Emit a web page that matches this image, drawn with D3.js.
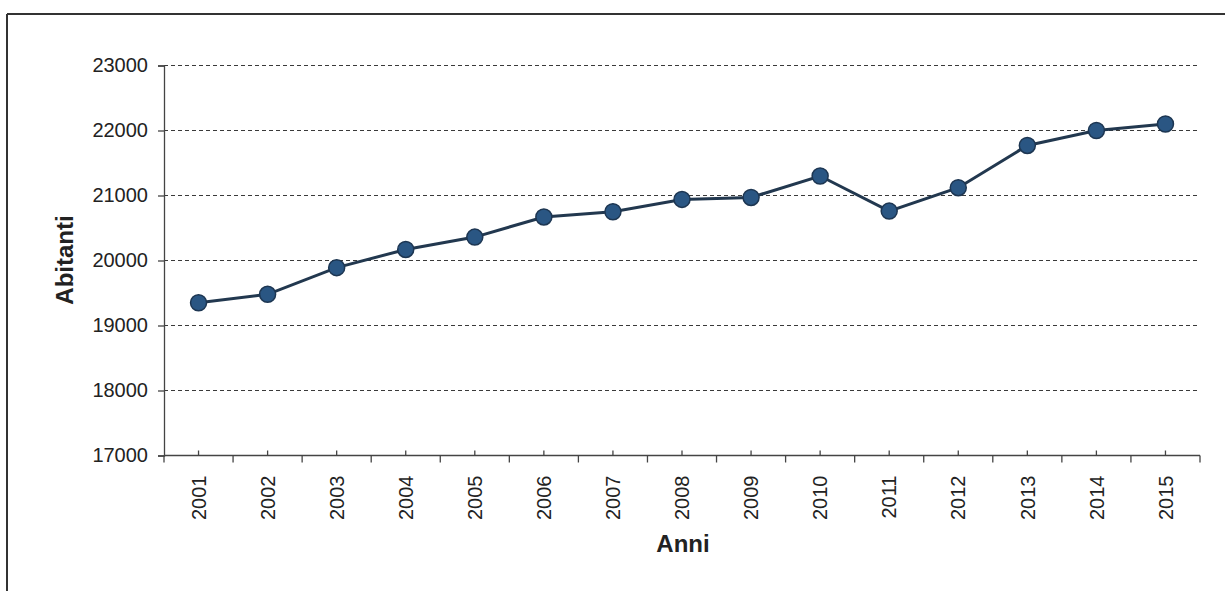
<!DOCTYPE html>
<html>
<head>
<meta charset="utf-8">
<script src="https://cdnjs.cloudflare.com/ajax/libs/d3/7.8.5/d3.min.js"></script>
<style>
  body { margin: 0; background: #fff; }
  svg { display: block; font-family: "Liberation Sans", Arial, sans-serif; }
</style>
</head>
<body>
<svg width="1225" height="591"></svg>
<script>
// data
var years = ["2001","2002","2003","2004","2005","2006","2007","2008","2009","2010","2011","2012","2013","2014","2015"];
var abitanti = [19350, 19480, 19890, 20170, 20360, 20670, 20750, 20940, 20970, 21300, 20760, 21120, 21770, 22000, 22100];
var yTicks = [17000, 18000, 19000, 20000, 21000, 22000, 23000];

var svg = d3.select("svg");

// outer frame (top and left edges of the box)
svg.append("line").attr("x1", 7).attr("y1", 14).attr("x2", 1225).attr("y2", 14)
    .attr("stroke", "#333").attr("stroke-width", 2);
svg.append("line").attr("x1", 7).attr("y1", 14).attr("x2", 7).attr("y2", 591)
    .attr("stroke", "#333").attr("stroke-width", 2);

var plotLeft = 164, plotRight = 1200, plotTop = 65.5, plotBottom = 455.5;

var x = d3.scaleBand().domain(years).range([plotLeft, plotRight]).padding(0);
var y = d3.scaleLinear().domain([17000, 23000]).range([plotBottom, plotTop]);

//dashed grid lines
svg.append("g").selectAll("line")
    .data(yTicks.filter(function(d) { return d > 17000; }))
    .enter().append("line")
    .attr("x1", plotLeft).attr("x2", plotRight)
    .attr("y1", function(d) { return y(d); })
    .attr("y2", function(d) { return y(d); })
    .attr("stroke", "#3a3a3a")
    .attr("stroke-width", 1.2)
    .attr("stroke-dasharray", "4,3");

// y axis
var yAxis = svg.append("g")
    .attr("transform", "translate(" + plotLeft + ",0)")
    .call(d3.axisLeft(y).tickValues(yTicks).tickSize(6).tickPadding(10).tickFormat(d3.format("d")));
yAxis.select(".domain").attr("stroke", "#444").attr("stroke-width", 1.3);
yAxis.selectAll(".tick line").attr("stroke", "#444").attr("stroke-width", 1.3);
yAxis.selectAll("text").attr("font-size", 20).attr("fill", "#222").attr("font-family", "Liberation Sans, Arial, sans-serif");

// x axis line
svg.append("line").attr("x1", plotLeft).attr("x2", plotRight).attr("y1", plotBottom).attr("y2", plotBottom)
    .attr("stroke", "#444").attr("stroke-width", 1.3);

// ticks at category boundaries (below) and centers (above)
var bounds = years.map(function(d) { return x(d); }).concat([plotRight]);
svg.append("g").selectAll("line").data(bounds).enter().append("line")
    .attr("x1", function(d) { return d; }).attr("x2", function(d) { return d; })
    .attr("y1", plotBottom).attr("y2", plotBottom + 7)
    .attr("stroke", "#444").attr("stroke-width", 1.3);
svg.append("g").selectAll("line").data(years).enter().append("line")
    .attr("x1", function(d) { return x(d) + x.bandwidth() / 2; })
    .attr("x2", function(d) { return x(d) + x.bandwidth() / 2; })
    .attr("y1", plotBottom).attr("y2", plotBottom - 5)
    .attr("stroke", "#444").attr("stroke-width", 1.3);

// year labels, rotated
svg.append("g").selectAll("text").data(years).enter().append("text")
    .attr("transform", function(d) {
        return "translate(" + (x(d) + x.bandwidth() / 2) + "," + (plotBottom + 20) + ") rotate(-90)";
    })
    .attr("text-anchor", "end")
    .attr("dy", "0.36em")
    .attr("font-size", 20)
    .attr("fill", "#222")
    .text(function(d) { return d; });

// line
var line = d3.line()
    .x(function(d, i) { return x(years[i]) + x.bandwidth() / 2; })
    .y(function(d) { return y(d); });

svg.append("path")
    .datum(abitanti)
    .attr("d", line)
    .attr("fill", "none")
    .attr("stroke", "#22384f")
    .attr("stroke-width", 3);

svg.append("g").selectAll("circle").data(abitanti).enter().append("circle")
    .attr("cx", function(d, i) { return x(years[i]) + x.bandwidth() / 2; })
    .attr("cy", function(d) { return y(d); })
    .attr("r", 8)
    .attr("fill", "#2a5683")
    .attr("stroke", "#1d3652")
    .attr("stroke-width", 1.5);

// axis titles
svg.append("text")
    .attr("x", 683).attr("y", 552)
    .attr("text-anchor", "middle")
    .attr("font-size", 24).attr("font-weight", "bold").attr("fill", "#222")
    .text("Anni");

svg.append("text")
    .attr("transform", "translate(73,260) rotate(-90)")
    .attr("text-anchor", "middle")
    .attr("font-size", 24).attr("font-weight", "bold").attr("fill", "#222")
    .text("Abitanti");
</script>
</body>
</html>
